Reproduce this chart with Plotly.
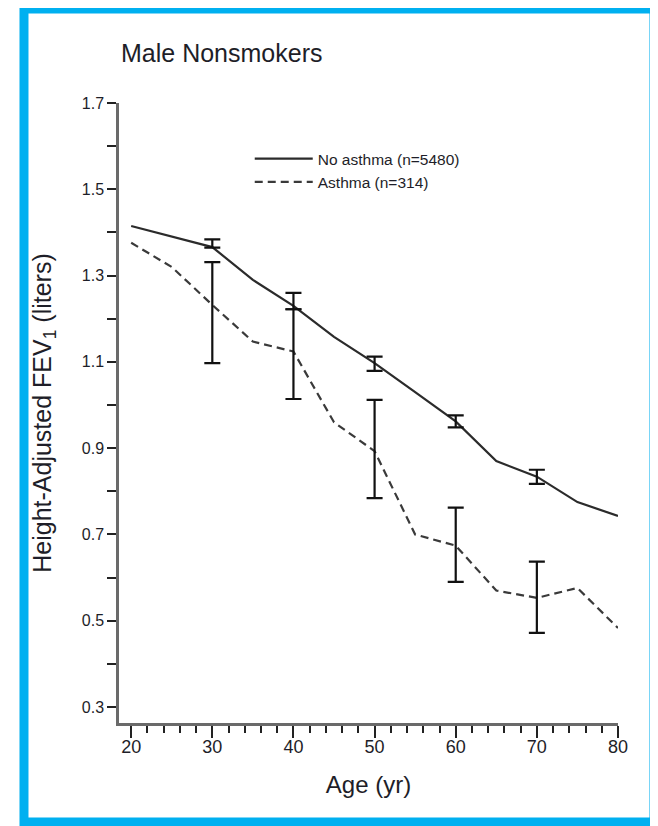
import plotly.graph_objects as go

# ---- data ----
ages = [20, 25, 30, 35, 40, 45, 50, 55, 60, 65, 70, 75, 80]
no_asthma = [1.415, 1.390, 1.366, 1.290, 1.230, 1.158, 1.097, 1.030, 0.962, 0.870, 0.834, 0.775, 0.743]
asthma = [1.376, 1.320, 1.232, 1.147, 1.124, 0.960, 0.893, 0.700, 0.674, 0.570, 0.553, 0.576, 0.483]

err_ages = [30, 40, 50, 60, 70]
no_asthma_err_plus = [0.018, 0.030, 0.015, 0.014, 0.016]
no_asthma_err_minus = [0.001, 0.008, 0.018, 0.014, 0.017]
asthma_err_plus = [0.099, 0.098, 0.119, 0.088, 0.084]
asthma_err_minus = [0.135, 0.110, 0.109, 0.084, 0.081]

y_tick_vals = [0.3, 0.5, 0.7, 0.9, 1.1, 1.3, 1.5, 1.7]
y_tick_text = ["0.3", "0.5", "0.7", "0.9", "1.1", "1.3", "1.5", "1.7"]
x_tick_vals = [20, 30, 40, 50, 60, 70, 80]
x_tick_text = ["20", "30", "40", "50", "60", "70", "80"]

series_names = ["No asthma (n=5480)", "Asthma (n=314)"]
title_text = "Male Nonsmokers"
x_title = "Age (yr)"
y_title = "Height-Adjusted FEV<sub>1</sub> (liters)"

FONT = "Liberation Sans, Arial, sans-serif"
TXT = "#1e1e28"

def at(series, a):
    return series[ages.index(a)]

fig = go.Figure()

fig.add_trace(go.Scatter(
    x=ages, y=no_asthma, mode="lines", name=series_names[0],
    line=dict(color="#2b2b2b", width=2.2), hoverinfo="skip"))
fig.add_trace(go.Scatter(
    x=ages, y=asthma, mode="lines", name=series_names[1],
    line=dict(color="#3a3a3a", width=2.2, dash="8px,5px"), hoverinfo="skip"))

for series, plus, minus in [(no_asthma, no_asthma_err_plus, no_asthma_err_minus),
                            (asthma, asthma_err_plus, asthma_err_minus)]:
    fig.add_trace(go.Scatter(
        x=err_ages, y=[at(series, a) for a in err_ages], mode="markers",
        marker=dict(size=1, color="rgba(0,0,0,0)"), showlegend=False, hoverinfo="skip",
        error_y=dict(type="data", symmetric=False, array=plus, arrayminus=minus,
                     color="#111111", thickness=2.2, width=8)))

# the page body adds an 8 px offset, so the figure is 8 px smaller than the window
fig.update_layout(
    width=650, height=818,
    margin=dict(l=111, r=40, t=95, b=103),
    paper_bgcolor="white", plot_bgcolor="white",
    font=dict(family=FONT, color=TXT),
    showlegend=True,
    legend=dict(x=0.262, y=0.937, xanchor="left", yanchor="top",
                bgcolor="rgba(0,0,0,0)", font=dict(size=15.5, color=TXT),
                itemwidth=58, tracegroupgap=0),
    xaxis=dict(range=[18.5, 80], showline=True, linecolor="#6a6a6a", linewidth=2.5,
               showgrid=False, zeroline=False,
               tickmode="array", tickvals=x_tick_vals, ticktext=x_tick_text,
               ticks="outside", ticklen=12, tickwidth=2, tickcolor="#222",
               tickfont=dict(size=18, color=TXT), ticklabelstandoff=-6,
               minor=dict(dtick=2, tick0=20, ticks="outside", ticklen=7, tickwidth=2, tickcolor="#222"),
               title=dict(text=x_title, font=dict(size=24, color=TXT), standoff=20)),
    yaxis=dict(range=[0.263, 1.7], showline=True, linecolor="#6a6a6a", linewidth=2.5,
               showgrid=False, zeroline=False,
               tickmode="array", tickvals=y_tick_vals, ticktext=y_tick_text,
               ticks="outside", ticklen=9, tickwidth=2, tickcolor="#222",
               tickfont=dict(size=16, color=TXT),
               minor=dict(dtick=0.1, tick0=0.3, ticks="outside", ticklen=9, tickwidth=2, tickcolor="#222"),
               title=dict(text=y_title, font=dict(size=25, color=TXT), standoff=24)),
    annotations=[dict(text=title_text, xref="paper", yref="paper",
                      x=0.0, y=1.081, xanchor="left", yanchor="middle",
                      showarrow=False, font=dict(size=25, color=TXT))],
    shapes=[dict(type="rect", xref="paper", yref="paper",
                 x0=-0.1904, x1=1.0721, y0=-0.1597, y1=1.1516,
                 line=dict(color="#00b0f0", width=9), fillcolor="rgba(0,0,0,0)", layer="above")],
)

fig.write_html("out.html")
